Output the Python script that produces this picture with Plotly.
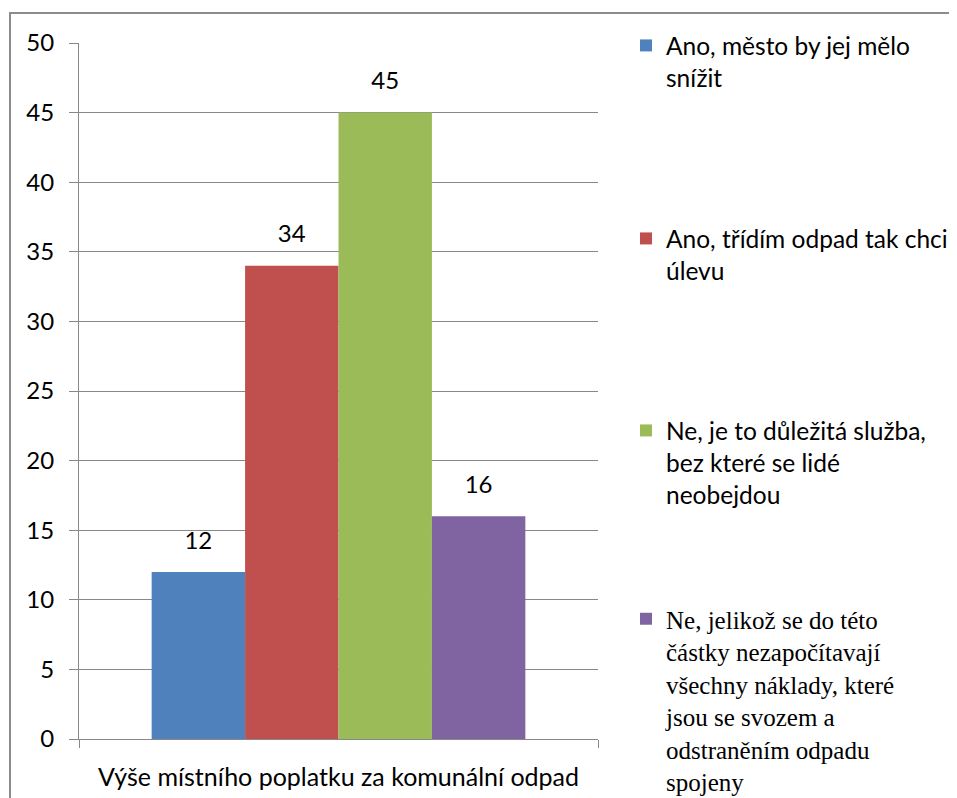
import plotly.graph_objects as go

categories = ["Výše místního poplatku za komunální odpad"]
series_names = [
    "Ano, město by jej mělo<br>snížit",
    "Ano, třídím odpad tak chci<br>úlevu",
    "Ne, je to důležitá služba,<br>bez které se lidé<br>neobejdou",
    "Ne, jelikož se do této<br>částky nezapočítavají<br>všechny náklady, které<br>jsou se svozem a<br>odstraněním odpadu<br>spojeny",
]
series_values = [[12], [34], [45], [16]]
series_colors = ["#4F81BD", "#C0504D", "#9BBB59", "#8064A2"]
y_ticks = [0, 5, 10, 15, 20, 25, 30, 35, 40, 45, 50]

# page is drawn inside the browser's default 8px body margin
OFF = 8
W, H = 957 - OFF, 798 - OFF
# plot area edges in page pixels
L, R, T, B = 79, 598, 43, 739
SANS = "Lato, 'Open Sans', sans-serif"
SERIF = "'Liberation Serif', 'DejaVu Serif', serif"
FS = 24

def px_x(x):
    return (x - L) / (R - L)

def px_y(y):
    return (B - y) / (B - T)

legend_ids = ["legend", "legend2", "legend3", "legend4"]
legend_tops = [23, 216, 408, 596]
legend_fonts = [dict(family=SANS, size=24.5), dict(family=SANS, size=24.5),
                dict(family=SANS, size=24.5), dict(family=SERIF, size=25)]

fig = go.Figure()
for i, (name, vals, col, lid) in enumerate(zip(series_names, series_values, series_colors, legend_ids)):
    fig.add_trace(go.Bar(
        x=categories, y=vals, name=name,
        marker=dict(color=col, line=dict(width=0)),
        offsetgroup=str(i), legend=lid, hoverinfo="skip",
    ))
for i, vals in enumerate(series_values):
    fig.add_trace(go.Scatter(
        x=categories, y=vals, mode="markers+text",
        text=[str(v) for v in vals], textposition="top center",
        textfont=dict(family=SANS, size=FS, color="#000000"),
        marker=dict(size=26, opacity=0),
        offsetgroup=str(i), showlegend=False, cliponaxis=False, hoverinfo="skip",
    ))

layout_legends = {}
for lid, top, fnt in zip(legend_ids, legend_tops, legend_fonts):
    layout_legends[lid] = dict(
        x=px_x(626), y=px_y(top), xanchor="left", yanchor="top",
        font=dict(color="#000000", **fnt),
        bgcolor="rgba(0,0,0,0)", valign="top", itemwidth=30,
        itemclick=False, itemdoubleclick=False,
    )

fig.update_layout(
    width=W, height=H,
    margin=dict(l=L - OFF, r=W - (R - OFF), t=T - OFF, b=H - (B - OFF), pad=0, autoexpand=False),
    paper_bgcolor="white", plot_bgcolor="white",
    barmode="group", bargap=0.28, bargroupgap=0,
    scattermode="group", scattergap=0.28,
    showlegend=True,
    font=dict(family=SANS, size=FS, color="#000000"),
    xaxis=dict(
        showgrid=False, showline=True, linecolor="#888888", linewidth=1,
        ticks="outside", tickson="boundaries", ticklen=8, tickcolor="#888888",
        tickfont=dict(family=SANS, size=25, color="#000000"),
        ticklabelstandoff=16, automargin=False,
        range=[-0.5, 0.5], fixedrange=True,
    ),
    yaxis=dict(
        range=[0, 50], tickvals=y_ticks, showgrid=True, gridcolor="#888888", gridwidth=1,
        showline=True, linecolor="#888888", linewidth=1,
        ticks="outside", ticklen=9, tickcolor="#888888",
        tickfont=dict(family=SANS, size=FS, color="#000000"),
        ticklabelstandoff=10, automargin=False, zeroline=False, fixedrange=True,
    ),
    shapes=[dict(
        type="rect", xref="paper", yref="paper",
        x0=px_x(10), x1=px_x(1000), y0=px_y(850), y1=px_y(13),
        line=dict(color="#8c8c8c", width=2), fillcolor="rgba(0,0,0,0)", layer="below",
    )],
    **layout_legends,
)

fig.write_html("out.html")
